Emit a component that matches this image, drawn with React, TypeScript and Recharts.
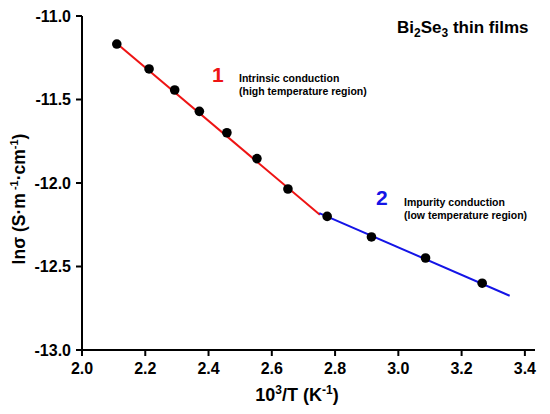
import React from 'react';
import { ScatterChart, Scatter, XAxis, YAxis } from 'recharts';

const invT = [2.11, 2.212, 2.293, 2.371, 2.458, 2.553, 2.651, 2.775, 2.915, 3.086, 3.265];
const lnSigma = [-11.168, -11.317, -11.443, -11.571, -11.699, -11.854, -12.036, -12.2, -12.323, -12.449, -12.6];

const redFitX = [2.11, 2.752];
const redFitY = [-11.165, -12.19];
const blueFitX = [2.75, 3.352];
const blueFitY = [-12.18, -12.675];

const xTicks = [2.0, 2.2, 2.4, 2.6, 2.8, 3.0, 3.2, 3.4];
const yTicks = [-13.0, -12.5, -12.0, -11.5, -11.0];

const points = invT.map((x, i) => ({ x, y: lnSigma[i] }));
const redFit = redFitX.map((x, i) => ({ x, y: redFitY[i] }));
const blueFit = blueFitX.map((x, i) => ({ x, y: blueFitY[i] }));

const FONT = '"Liberation Sans", Arial, sans-serif';
const RED = '#ee1414';
const BLUE = '#1414e6';

const Dot = (props: any) => <circle cx={props.cx} cy={props.cy} r={4.8} fill="#000" />;
const NoShape = () => <g />;

export default function App() {
  const tickStyle = { fontSize: 16, fontWeight: 700, fill: '#000', fontFamily: FONT };
  return (
    <div style={{ position: 'absolute', left: 0, top: 0, width: 550, height: 414, background: '#fff' }}>
      <ScatterChart width={550} height={414} margin={{ top: 16, right: 15, bottom: 34, left: 22 }}>
        <XAxis
          type="number"
          dataKey="x"
          domain={[2.0, 3.432]}
          ticks={xTicks}
          allowDataOverflow
          tickFormatter={(v: number) => v.toFixed(1)}
          axisLine={{ stroke: '#000', strokeWidth: 2 }}
          tickLine={{ stroke: '#000', strokeWidth: 2 }}
          tickSize={6}
          tickMargin={7}
          tick={tickStyle}
          height={30}
        />
        <YAxis
          type="number"
          dataKey="y"
          domain={[-13, -11]}
          ticks={yTicks}
          allowDataOverflow
          tickFormatter={(v: number) => v.toFixed(1)}
          axisLine={{ stroke: '#000', strokeWidth: 2 }}
          tickLine={{ stroke: '#000', strokeWidth: 2 }}
          tickSize={6}
          tickMargin={5}
          tick={tickStyle}
          width={60}
        />
        <Scatter data={redFit} line={{ stroke: RED, strokeWidth: 2 }} shape={NoShape} isAnimationActive={false} />
        <Scatter data={blueFit} line={{ stroke: BLUE, strokeWidth: 2 }} shape={NoShape} isAnimationActive={false} />
        <Scatter data={points} shape={Dot} isAnimationActive={false} />
      </ScatterChart>
      <svg width={550} height={414} style={{ position: 'absolute', left: 0, top: 0, pointerEvents: 'none' }} fontFamily={FONT} fontWeight={700}>
        <text x={397} y={33} fontSize={17} fill="#000">
          Bi<tspan fontSize={12} dy={4}>2</tspan><tspan dy={-4}>Se</tspan><tspan fontSize={12} dy={4}>3</tspan><tspan dy={-4}> thin films</tspan>
        </text>
        <text x={212} y={82} fontSize={21} fill={RED}>1</text>
        <text x={239} y={82} fontSize={10.5} fill="#000">Intrinsic conduction</text>
        <text x={239} y={95} fontSize={10.5} fill="#000">(high temperature region)</text>
        <text x={376} y={205} fontSize={21} fill={BLUE}>2</text>
        <text x={404} y={206} fontSize={10.5} fill="#000">Impurity conduction</text>
        <text x={404} y={219} fontSize={10.5} fill="#000">(low temperature region)</text>
        <text x={297} y={401} fontSize={18} fill="#000" textAnchor="middle">
          10<tspan fontSize={12} dy={-7}>3</tspan><tspan dy={7}>/T (K</tspan><tspan fontSize={12} dy={-7}>-1</tspan><tspan dy={7}>)</tspan>
        </text>
        <text x={0} y={0} fontSize={17.5} fill="#000" textAnchor="middle" transform="translate(25,199) rotate(-90)">
          lnσ (S·m<tspan fontSize={11} dy={-7}> -1</tspan><tspan dy={7}>·cm</tspan><tspan fontSize={11} dy={-7}>-1</tspan><tspan dy={7}>)</tspan>
        </text>
      </svg>
    </div>
  );
}
